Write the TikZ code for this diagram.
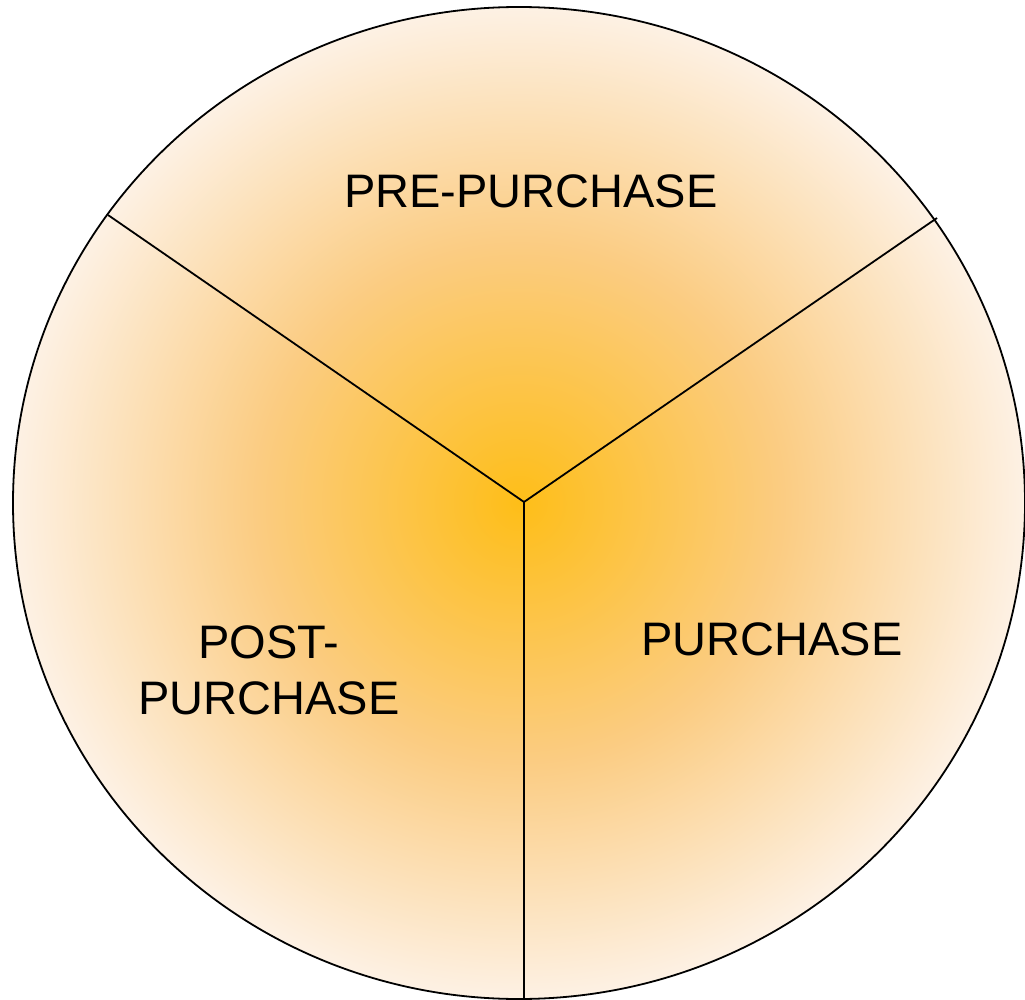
\documentclass[tikz,border=0pt]{standalone}
\usepackage{fontspec}
\setmainfont{Liberation Sans}

\definecolor{glowcore}{RGB}{254,190,24}
\definecolor{glowmid}{RGB}{251,204,130}
\definecolor{glowrim}{RGB}{253,241,228}
\pgfdeclareradialshading{glow}{\pgfpoint{0bp}{0bp}}{%
  color(0bp)=(glowcore); color(13bp)=(glowmid);
  color(25bp)=(glowrim); color(50bp)=(glowrim)}

\begin{document}
\begin{tikzpicture}[x=1pt, y=-1pt,
        disc/.style={shading=glow, draw=black, line width=1.8pt},
        divider/.style={line width=1.8pt},
        phase/.style={align=center, font=\fontsize{47}{56}\selectfont, inner sep=0pt}
      ]
      \useasboundingbox (0,0) rectangle (1025,1000);

      \shade[disc] (519,503) ellipse [x radius=506, y radius=496];

      \coordinate (hub)      at (524,502);
      \coordinate (rimleft)  at (108,215);
      \coordinate (rimright) at (937,218);
      \coordinate (rimdown)  at (524,999);

      \draw[divider] (rimleft) -- (hub) -- (rimright);
      \draw[divider] (hub) -- (rimdown);

      \node[phase] (pre)  at (531,191) {PRE-PURCHASE};
      \node[phase] (buy)  at (772,639) {PURCHASE};
      \node[phase] (post) at (269,670) {POST-\\PURCHASE};

    \end{tikzpicture}
\end{document}
